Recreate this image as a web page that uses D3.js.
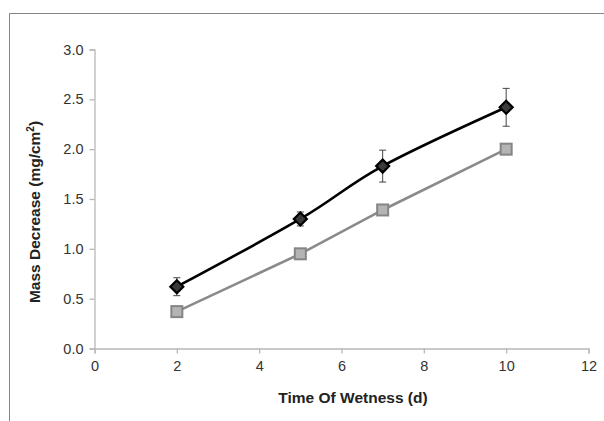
<!DOCTYPE html>
<html>
<head>
<meta charset="utf-8">
<script src="https://cdn.jsdelivr.net/npm/d3@7"></script>
<style>
  html, body { margin: 0; padding: 0; background: #fff; }
  svg { display: block; font-family: "Liberation Sans", Arial, sans-serif; }
</style>
</head>
<body>
<svg id="chart" width="604" height="421"></svg>
<script>
// Exposure time in days
const days = [2, 5, 7, 10];
// Mass decrease, mg/cm², with standard deviation for the upper series
const seriesA = [0.62, 1.30, 1.83, 2.42];
const seriesAErr = [0.09, 0.07, 0.16, 0.19];
const seriesB = [0.37, 0.95, 1.39, 2.00];
const xTicks = [0, 2, 4, 6, 8, 10, 12];
const yTicks = [0, 0.5, 1.0, 1.5, 2.0, 2.5, 3.0];

const svg = d3.select("#chart");

// outer chart-area frame (top and left edges visible)
svg.append("path")
  .attr("d", "M9.5,421 V13.5 H604")
  .attr("fill", "none")
  .attr("stroke", "#848484")
  .attr("stroke-width", 1);

const x = d3.scaleLinear().domain([0, 12]).range([94.5, 588.5]);
const y = d3.scaleLinear().domain([0, 3]).range([348.5, 49.5]);

// axes
const xAxis = svg.append("g")
  .attr("transform", `translate(0,${y(0)})`)
  .call(d3.axisBottom(x).tickValues(xTicks).tickFormat(d3.format("d")).tickSize(5).tickPadding(7));
const yAxis = svg.append("g")
  .attr("transform", `translate(${x(0)},0)`)
  .call(d3.axisLeft(y).tickValues(yTicks).tickFormat(d3.format(".1f")).tickSize(5).tickPadding(6));

[xAxis, yAxis].forEach(g => {
  g.selectAll(".domain").attr("stroke", "#b8b8b8").attr("stroke-width", 1.3);
  g.selectAll(".tick line").attr("stroke", "#b8b8b8").attr("stroke-width", 1.3);
  g.selectAll("text")
    .attr("fill", "#333")
    .style("font-size", "14.5px")
    .style("font-family", "'Liberation Sans', Arial, sans-serif");
});

// axis titles
svg.append("text")
  .attr("x", 353).attr("y", 403)
  .attr("text-anchor", "middle")
  .attr("fill", "#222")
  .style("font-size", "15.5px").style("font-weight", "bold")
  .text("Time Of Wetness (d)");

const yTitle = svg.append("text")
  .attr("transform", "translate(40,212) rotate(-90)")
  .attr("text-anchor", "middle")
  .attr("fill", "#222")
  .style("font-size", "15.5px").style("font-weight", "bold");
yTitle.append("tspan").text("Mass Decrease (mg/cm");
yTitle.append("tspan").attr("dy", -6).style("font-size", "10px").text("2");
yTitle.append("tspan").attr("dy", 6).text(")");

const ptsA = days.map((d, i) => ({ d, v: seriesA[i], e: seriesAErr[i] }));
const ptsB = days.map((d, i) => ({ d, v: seriesB[i] }));

// lower series: straight grey line with square markers
svg.append("path")
  .datum(ptsB)
  .attr("fill", "none")
  .attr("stroke", "#8a8a8a")
  .attr("stroke-width", 2.6)
  .attr("d", d3.line().x(p => x(p.d)).y(p => y(p.v)));

svg.selectAll(".sq")
  .data(ptsB)
  .join("rect")
  .attr("class", "sq")
  .attr("x", p => x(p.d) - 5.5)
  .attr("y", p => y(p.v) - 5.5)
  .attr("width", 11).attr("height", 11)
  .attr("fill", "#b4b4b4")
  .attr("stroke", "#858585")
  .attr("stroke-width", 2);

// upper series: smoothed black line
svg.append("path")
  .datum(ptsA)
  .attr("fill", "none")
  .attr("stroke", "#000")
  .attr("stroke-width", 2.6)
  .attr("d", d3.line().curve(d3.curveCardinal.tension(0)).x(p => x(p.d)).y(p => y(p.v)));

// error bars
const eb = svg.selectAll(".eb").data(ptsA).join("g").attr("class", "eb")
  .attr("stroke", "#444").attr("stroke-width", 1);
eb.append("line")
  .attr("x1", p => x(p.d)).attr("x2", p => x(p.d))
  .attr("y1", p => y(p.v + p.e)).attr("y2", p => y(p.v - p.e));
eb.append("line")
  .attr("x1", p => x(p.d) - 3.5).attr("x2", p => x(p.d) + 3.5)
  .attr("y1", p => y(p.v + p.e)).attr("y2", p => y(p.v + p.e));
eb.append("line")
  .attr("x1", p => x(p.d) - 3.5).attr("x2", p => x(p.d) + 3.5)
  .attr("y1", p => y(p.v - p.e)).attr("y2", p => y(p.v - p.e));

// diamond markers
svg.selectAll(".dm")
  .data(ptsA)
  .join("path")
  .attr("class", "dm")
  .attr("transform", p => `translate(${x(p.d)},${y(p.v)})`)
  .attr("d", "M0,-6.5 L6.5,0 L0,6.5 L-6.5,0 Z")
  .attr("fill", "#3a3a3a")
  .attr("stroke", "#000")
  .attr("stroke-width", 2.2);
</script>
</body>
</html>
